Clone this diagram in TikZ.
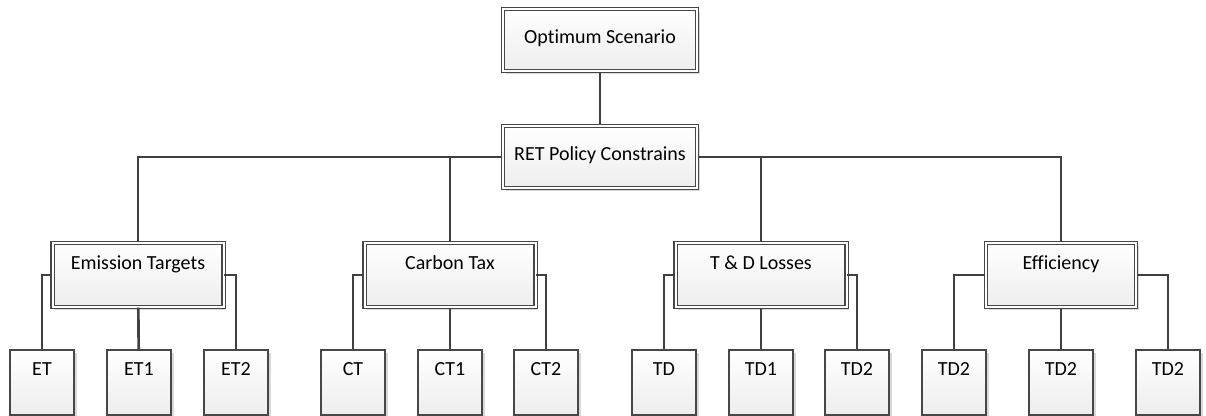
\documentclass[tikz,border=0pt]{standalone}
\usepackage{fontspec}
\setmainfont{Carlito}[Ligatures={NoCommon}]
\usepackage{tikz}
\usetikzlibrary{positioning,shadows}

\definecolor{linegray}{HTML}{404040}
\definecolor{boxgray}{HTML}{474747}

\begin{document}
\begin{tikzpicture}[x=0.75pt, y=-0.75pt,
  every node/.style={font=\fontsize{15}{18}\selectfont, align=center},
  box/.style={draw=boxgray, line width=0.8pt, top color=white, bottom color=gray!14,
    inner sep=0pt, drop shadow={shadow xshift=2pt, shadow yshift=-2pt, fill=gray!30, opacity=1}},
  dbox/.style={box, double=white, double distance=1.5pt},
  topbox/.style={dbox, minimum width=145.5pt, text height=26.25pt, text depth=20.25pt},
  midbox/.style={dbox, minimum width=128.25pt, text height=20.25pt, text depth=27.75pt},
  leaf/.style={box, minimum width=48pt, text height=19.5pt, text depth=29.25pt},
  link/.style={draw=linegray, line width=2pt}]
  \useasboundingbox (0,0) rectangle (1206,416);

  % root and policy level
  \node[topbox] (opt) at (600,40) {Optimum Scenario};
  \node[topbox] (ret) at (600,157) {RET Policy Constrains};

  % constraint groups
  \node[midbox] (emis) at (138,275) {Emission Targets};
  \node[midbox] (ctax) at (450,275) {Carbon Tax};
  \node[midbox] (tdl) at (761,275) {T \& D Losses};
  \node[midbox, minimum width=112.5pt] (effi) at (1061,275) {Efficiency};

  % cases
  \foreach \n/\x/\t in {et/42/ET, et1/139/ET1, et2/236/ET2,
                        ct/353/CT, ct1/450/CT1, ct2/546/CT2,
                        td/664/TD, td1/761/TD1, td2/857/TD2,
                        ef/954/TD2, ef1/1061/TD2, ef2/1168/TD2}
    \node[leaf] (\n) at (\x,382.5) {\t};

  \draw[link] (opt) -- (ret);
  \draw[link] (ret.west) -| (emis.north);
  \draw[link] (ret.west) -| (ctax.north);
  \draw[link] (ret.east) -| (tdl.north);
  \draw[link] (ret.east) -| (effi.north);
  \foreach \p/\a/\b/\c in {emis/et/et1/et2, ctax/ct/ct1/ct2, tdl/td/td1/td2, effi/ef/ef1/ef2}{
    \draw[link] (\p.west) -| (\a.north);
    \draw[link] (\p) -- (\b);
    \draw[link] (\p.east) -| (\c.north);
  }
\end{tikzpicture}
\end{document}
